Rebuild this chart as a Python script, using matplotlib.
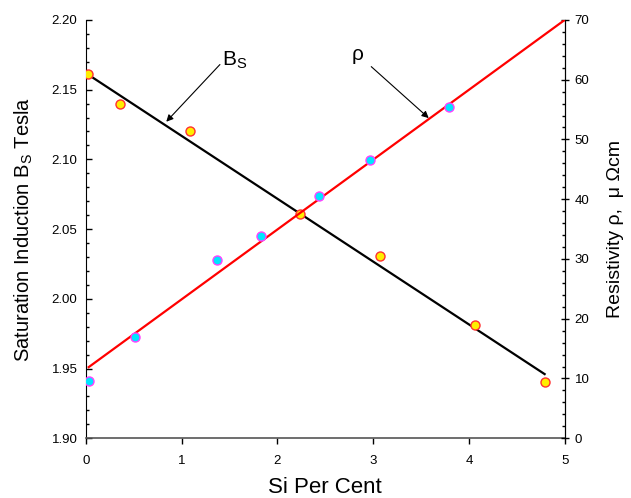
import matplotlib
matplotlib.use("Agg")
import matplotlib.pyplot as plt
from matplotlib.ticker import MultipleLocator

plt.rcParams['font.family'] = ['Liberation Sans', 'DejaVu Sans']
plt.rcParams['mathtext.fontset'] = 'custom'
plt.rcParams['mathtext.rm'] = 'Liberation Sans'
plt.rcParams['mathtext.it'] = 'Liberation Sans'

# Saturation induction data (left axis)
bs_si = [0.02, 0.36, 1.09, 2.24, 3.07, 4.06, 4.79]
bs_val = [2.161, 2.140, 2.120, 2.061, 2.031, 1.981, 1.940]
bs_fit_si = [0.02, 4.79]
bs_fit_val = [2.161, 1.946]

# Resistivity data (right axis)
rho_si = [0.03, 0.51, 1.37, 1.83, 2.43, 2.97, 3.79]
rho_val = [9.5, 17.0, 29.9, 33.9, 40.6, 46.5, 55.5]
rho_fit_si = [0.03, 5.0]
rho_fit_val = [11.9, 70.0]

fig = plt.figure(figsize=(6.31, 4.98), dpi=100)
ax = fig.add_axes([0.136, 0.120, 0.759, 0.840])
ax2 = ax.twinx()

ax.plot(bs_fit_si, bs_fit_val, color='black', lw=1.6, zorder=3)
ax.plot(bs_si, bs_val, linestyle='none', marker='o', ms=6.5, mfc='#ffee00',
        mec='#ff3030', mew=1.0, zorder=4)

ax2.plot(rho_fit_si, rho_fit_val, color='#ff0000', lw=1.6, zorder=3)
ax2.plot(rho_si, rho_val, linestyle='none', marker='o', ms=6.5, mfc='#00e5ff',
         mec='#ff40ff', mew=1.0, zorder=4)

ax.set_xlim(0, 5)
ax.set_ylim(1.90, 2.20)
ax2.set_ylim(0, 70)

ax.xaxis.set_major_locator(MultipleLocator(1))
ax.yaxis.set_major_locator(MultipleLocator(0.05))
ax.yaxis.set_minor_locator(MultipleLocator(0.01))
ax2.yaxis.set_major_locator(MultipleLocator(10))
ax2.yaxis.set_minor_locator(MultipleLocator(2))

ax.yaxis.set_major_formatter(matplotlib.ticker.FormatStrFormatter('%.2f'))

for a in (ax, ax2):
    a.spines['top'].set_visible(False)
ax.spines['left'].set_color('black')
ax.spines['bottom'].set_color('#555555')
ax2.spines['right'].set_color('black')
ax2.spines['left'].set_visible(False)
ax2.spines['bottom'].set_visible(False)
ax.spines['bottom'].set_linewidth(1.2)

ax.tick_params(axis='y', direction='in', length=4, width=1, labelsize=9.5, pad=6)
ax.tick_params(axis='y', which='minor', direction='in', length=2, width=1)
ax.tick_params(axis='x', direction='out', length=4, width=1, labelsize=9.5, pad=8)
ax2.tick_params(axis='y', direction='inout', length=6, width=1, labelsize=9.5, pad=4)
ax2.tick_params(axis='y', which='minor', direction='in', length=2.5, width=1)

ax.set_xlabel('Si Per Cent', fontsize=16, labelpad=7)
ax.set_ylabel(r'Saturation Induction B$_\mathrm{S}$ Tesla', fontsize=14.5, labelpad=12)
ax2.set_ylabel('Resistivity ρ,  μ Ωcm', fontsize=14, labelpad=13)

# Annotations
ax.text(1.55, 2.171, r'B$_\mathrm{S}$', fontsize=15, ha='center', va='center')
ax.annotate('', xy=(0.84, 2.127), xytext=(1.40, 2.168),
            arrowprops=dict(arrowstyle='-|>', color='black', lw=0.8,
                            mutation_scale=10, shrinkA=0, shrinkB=0))
ax.text(2.84, 2.175, 'ρ', fontsize=15, ha='center', va='center')
ax.annotate('', xy=(3.58, 2.1296), xytext=(2.98, 2.1665),
            arrowprops=dict(arrowstyle='-|>', color='black', lw=0.8,
                            mutation_scale=10, shrinkA=0, shrinkB=0))

fig.savefig('out.png', dpi=100)
